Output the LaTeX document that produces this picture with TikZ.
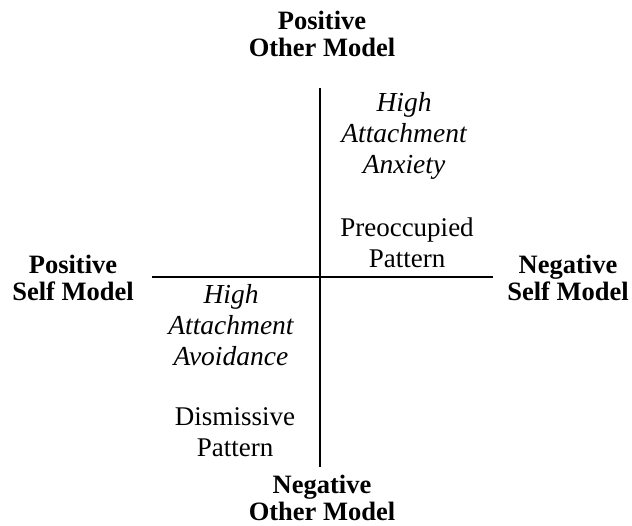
\documentclass[tikz,border=0pt]{standalone}
\usepackage{fontspec}
\setmainfont{Liberation Serif}
\begin{document}
\begin{tikzpicture}[x=1pt,y=1pt,
  axislabel/.style={font=\fontsize{26.5}{27}\selectfont\bfseries, align=center, inner sep=0pt},
  dimlabel/.style={font=\fontsize{27.5}{31}\selectfont\itshape, align=center, inner sep=0pt},
  patlabel/.style={font=\fontsize{27}{31}\selectfont, align=center, inner sep=0pt},
  axis/.style={line width=1.5pt}]
\useasboundingbox (0,0) rectangle (632,526);
\coordinate (vtop) at (320,438);
\coordinate (vbot) at (320,59);
\coordinate (hl) at (152,249);
\coordinate (hr) at (493,249);
\draw[axis] (vtop) -- (vbot);
\draw[axis] (hl) -- (hr);
\node[axislabel] (top) at (322,492) {Positive\\Other Model};
\node[axislabel] (bot) at (322,28) {Negative\\Other Model};
\node[axislabel] (left) at (73,248) {Positive\\Self Model};
\node[axislabel] (right) at (568,248) {Negative\\Self Model};
\node[dimlabel] (anx) at (404,390) {High\\Attachment\\Anxiety};
\node[patlabel] (pre) at (407,283) {Preoccupied\\Pattern};
\node[dimlabel] (avo) at (231,201) {High\\Attachment\\Avoidance};
\node[patlabel] (dis) at (235,94) {Dismissive\\Pattern};
\end{tikzpicture}
\end{document}
